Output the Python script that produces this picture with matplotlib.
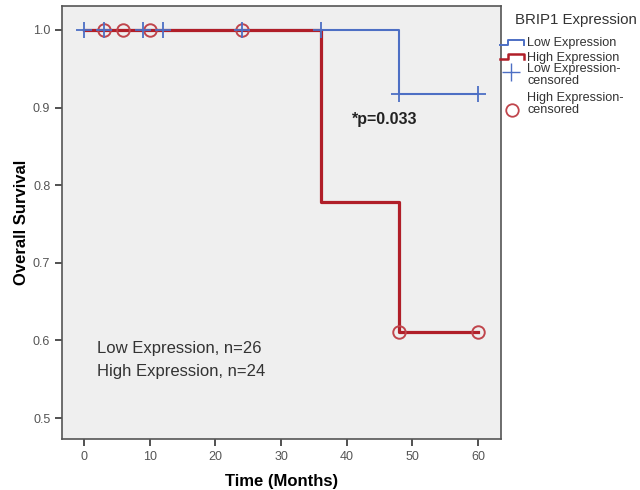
import matplotlib
matplotlib.use("Agg")
import matplotlib.pyplot as plt
from matplotlib.lines import Line2D

plt.rcParams['font.family'] = ['Liberation Sans', 'DejaVu Sans']

# Step curves (time, survival)
low_time = [0, 48, 60]
low_surv = [1.0, 0.917, 0.917]
high_time = [0, 36, 48, 60]
high_surv = [1.0, 0.778, 0.611, 0.611]

# Censored observations
low_cens_time = [0, 3, 9, 12, 24, 36, 48, 60]
low_cens_surv = [1.0, 1.0, 1.0, 1.0, 1.0, 1.0, 0.917, 0.917]
high_cens_time = [3, 6, 10, 24, 48, 60]
high_cens_surv = [1.0, 1.0, 1.0, 1.0, 0.611, 0.611]

x_ticks = [0, 10, 20, 30, 40, 50, 60]
y_ticks = [0.5, 0.6, 0.7, 0.8, 0.9, 1.0]

blue = '#4D6FC4'
red = '#B01E28'
tick_col = '#555555'

fig = plt.figure(figsize=(6.4, 4.9), dpi=100)
ax = fig.add_axes([0.097, 0.104, 0.686, 0.884])
ax.set_facecolor('#EFEFEF')

ax.step(low_time, low_surv, where='post', color=blue, lw=1.5, zorder=2)
ax.step(high_time, high_surv, where='post', color=red, lw=2.3, zorder=3)
ax.plot(low_cens_time, low_cens_surv, linestyle='none', marker='+', ms=11,
        mew=1.3, color=blue, zorder=5)
ax.plot(high_cens_time, high_cens_surv, linestyle='none', marker='o', ms=9,
        mfc='none', mew=1.4, color='#C0454C', zorder=4)

ax.set_xlim(-3.35, 63.5)
ax.set_ylim(0.473, 1.031)
ax.set_xticks(x_ticks)
ax.set_yticks(y_ticks)
ax.set_yticklabels([f'{v:.1f}' for v in y_ticks])
ax.tick_params(axis='both', labelsize=9, colors='#333333', labelcolor=tick_col,
               length=5, width=1.2, direction='out')
for s in ax.spines.values():
    s.set_color('#555555')
    s.set_linewidth(1.2)

ax.set_xlabel('Time (Months)', fontsize=12, fontweight='bold', labelpad=8)
ax.set_ylabel('Overall Survival', fontsize=12, fontweight='bold', labelpad=3)

ax.text(40.8, 0.885, '*p=0.033', fontsize=11.5, fontweight='bold',
        ha='left', va='center', color='#222222')
ax.text(2, 0.59, 'Low Expression, n=26', fontsize=12, color='#333333',
        ha='left', va='center')
ax.text(2, 0.56, 'High Expression, n=24', fontsize=12, color='#333333',
        ha='left', va='center')

# Legend drawn manually (pixel coords -> figure fraction)
W, H = 640.0, 490.0
def fx(px):
    return px / W
def fy(py):
    return 1 - py / H

fig.text(fx(515), fy(20), 'BRIP1 Expression', fontsize=10.8, color='#333333',
         ha='left', va='center')
for col, yb, yt in [(blue, 45, 40), (red, 59, 54)]:
    xs = [500, 508, 508, 524, 524]
    ys = [yb, yb, yt, yt, yb]
    fig.add_artist(Line2D([fx(x) for x in xs], [fy(y) for y in ys],
                          color=col, lw=1.8 if col == red else 1.4))
fig.text(fx(527), fy(43), 'Low Expression', fontsize=9.1, color='#333333',
         ha='left', va='center')
fig.text(fx(527), fy(58), 'High Expression', fontsize=9.1, color='#333333',
         ha='left', va='center')
fig.add_artist(Line2D([fx(511)], [fy(72)], marker='+', ms=13, mew=1.0,
                      color=blue, linestyle='none'))
fig.text(fx(527), fy(75), 'Low Expression-\ncensored', fontsize=9.1,
         color='#333333', ha='left', va='center', linespacing=0.95)
fig.add_artist(Line2D([fx(512)], [fy(110)], marker='o', ms=9, mew=1.3,
                      mfc='none', color='#C0454C', linestyle='none'))
fig.text(fx(527), fy(104), 'High Expression-\ncensored', fontsize=9.1,
         color='#333333', ha='left', va='center', linespacing=0.95)

fig.savefig('out.png', dpi=100)
